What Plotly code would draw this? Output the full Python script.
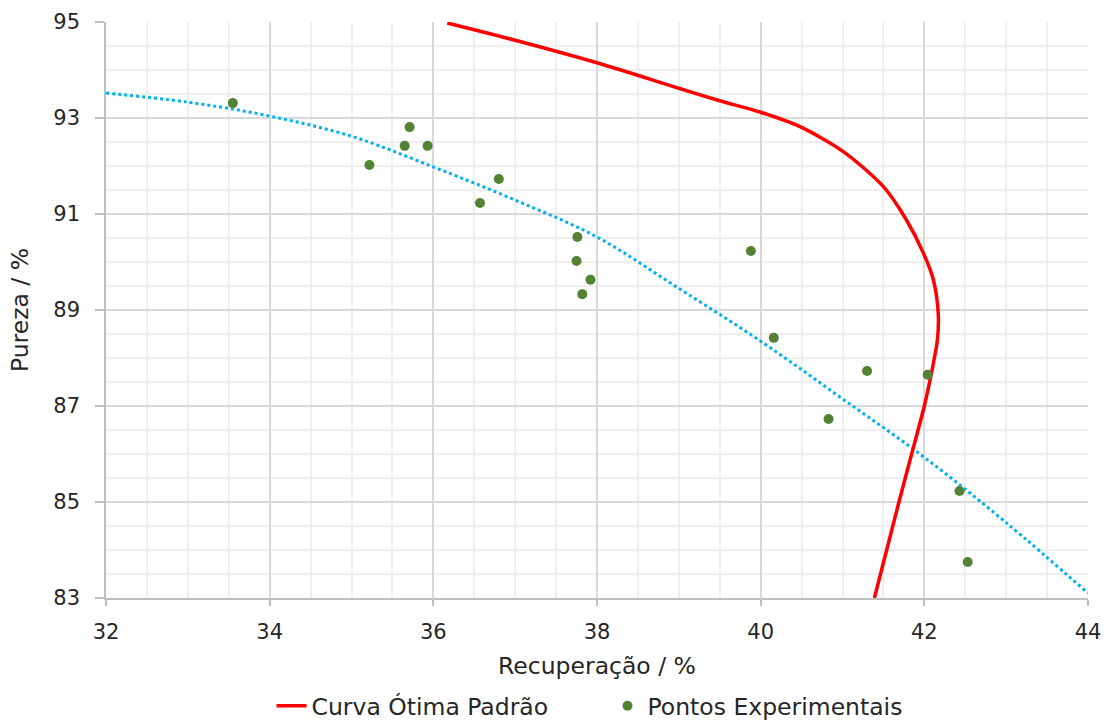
import plotly.graph_objects as go

# Experimental points (Recuperação %, Pureza %)
exp_rec = [33.55, 35.22, 35.65, 35.71, 35.93, 36.80, 36.57, 37.76, 37.75, 37.92,
           37.82, 39.88, 40.16, 40.83, 41.30, 42.04, 42.43, 42.53]
exp_pur = [93.31, 92.02, 92.42, 92.81, 92.42, 91.73, 91.23, 90.52, 90.02, 89.63,
           89.33, 90.23, 88.42, 86.73, 87.73, 87.65, 85.23, 83.75]

# Standard optimal curve
curve_rec = [36.17, 37.0, 38.0, 39.0, 39.5, 40.0, 40.48, 41.01, 41.5, 41.78,
             41.99, 42.11, 42.17, 42.16, 42.1, 42.0, 41.845, 41.69, 41.54, 41.39]
curve_pur = [94.98, 94.62, 94.15, 93.62, 93.36, 93.12, 92.82, 92.30, 91.57, 90.88,
             90.18, 89.63, 88.93, 88.38, 87.8, 87.0, 86.0, 85.0, 84.0, 83.0]

# Trend line (dotted)
trend_rec = [32, 33, 34, 35, 36, 37, 38, 39, 40, 41, 42, 43, 44]
trend_pur = [93.52, 93.33, 93.04, 92.62, 91.98, 91.29, 90.52, 89.45, 88.35,
             87.15, 85.93, 84.57, 83.1]

x_ticks = [32, 34, 36, 38, 40, 42, 44]
y_ticks = [83, 85, 87, 89, 91, 93, 95]

FONT = "DejaVu Sans, Verdana, sans-serif"
TXT = "#262626"

fig = go.Figure()
fig.add_trace(go.Scatter(
    x=trend_rec, y=trend_pur, mode="lines", showlegend=False,
    line=dict(color="#00B0F0", width=3, dash="dot", shape="spline"),
    hoverinfo="skip"))
fig.add_trace(go.Scatter(
    x=curve_rec, y=curve_pur, mode="lines", name="Curva Ótima Padrão",
    line=dict(color="#FF0000", width=3.5, shape="spline", smoothing=0.8)))
fig.add_trace(go.Scatter(
    x=exp_rec, y=exp_pur, mode="markers", name="Pontos Experimentais",
    marker=dict(color="#548235", size=10)))

axis_common = dict(
    showline=True, linecolor="#BFBFBF", linewidth=1.5,
    showgrid=True, gridcolor="#D9D9D9", gridwidth=1.5,
    ticks="outside", tickcolor="#BFBFBF", tickwidth=1.5,
    tickfont=dict(family=FONT, size=21, color=TXT),
    zeroline=False, automargin=False,
    minor=dict(dtick=0.5, showgrid=True, gridcolor="#EFEFEF", gridwidth=1.5, ticks=""),
)

fig.update_xaxes(
    range=[32, 44], tickvals=x_ticks, ticktext=[str(v) for v in x_ticks],
    ticklen=6, ticklabelstandoff=8,
    title=dict(text="Recuperação / %", font=dict(family=FONT, size=23.5, color=TXT), standoff=15),
    **axis_common)
fig.update_yaxes(
    range=[83, 95], tickvals=y_ticks, ticktext=[str(v) for v in y_ticks],
    ticklen=9, ticklabelstandoff=11,
    title=dict(text="Pureza / %", font=dict(family=FONT, size=23.5, color=TXT), standoff=18),
    **axis_common)

fig.update_layout(
    width=1108, height=725,
    margin=dict(l=106, r=20, t=22, b=127, autoexpand=False),
    paper_bgcolor="white", plot_bgcolor="white",
    font=dict(family=FONT, color=TXT),
    legend=dict(orientation="h", x=0.5107, xanchor="center", y=-0.1875, yanchor="middle",
                font=dict(family=FONT, size=23.5, color=TXT), entrywidth=291,
                bgcolor="rgba(0,0,0,0)"),
)

fig.write_html("out.html")
